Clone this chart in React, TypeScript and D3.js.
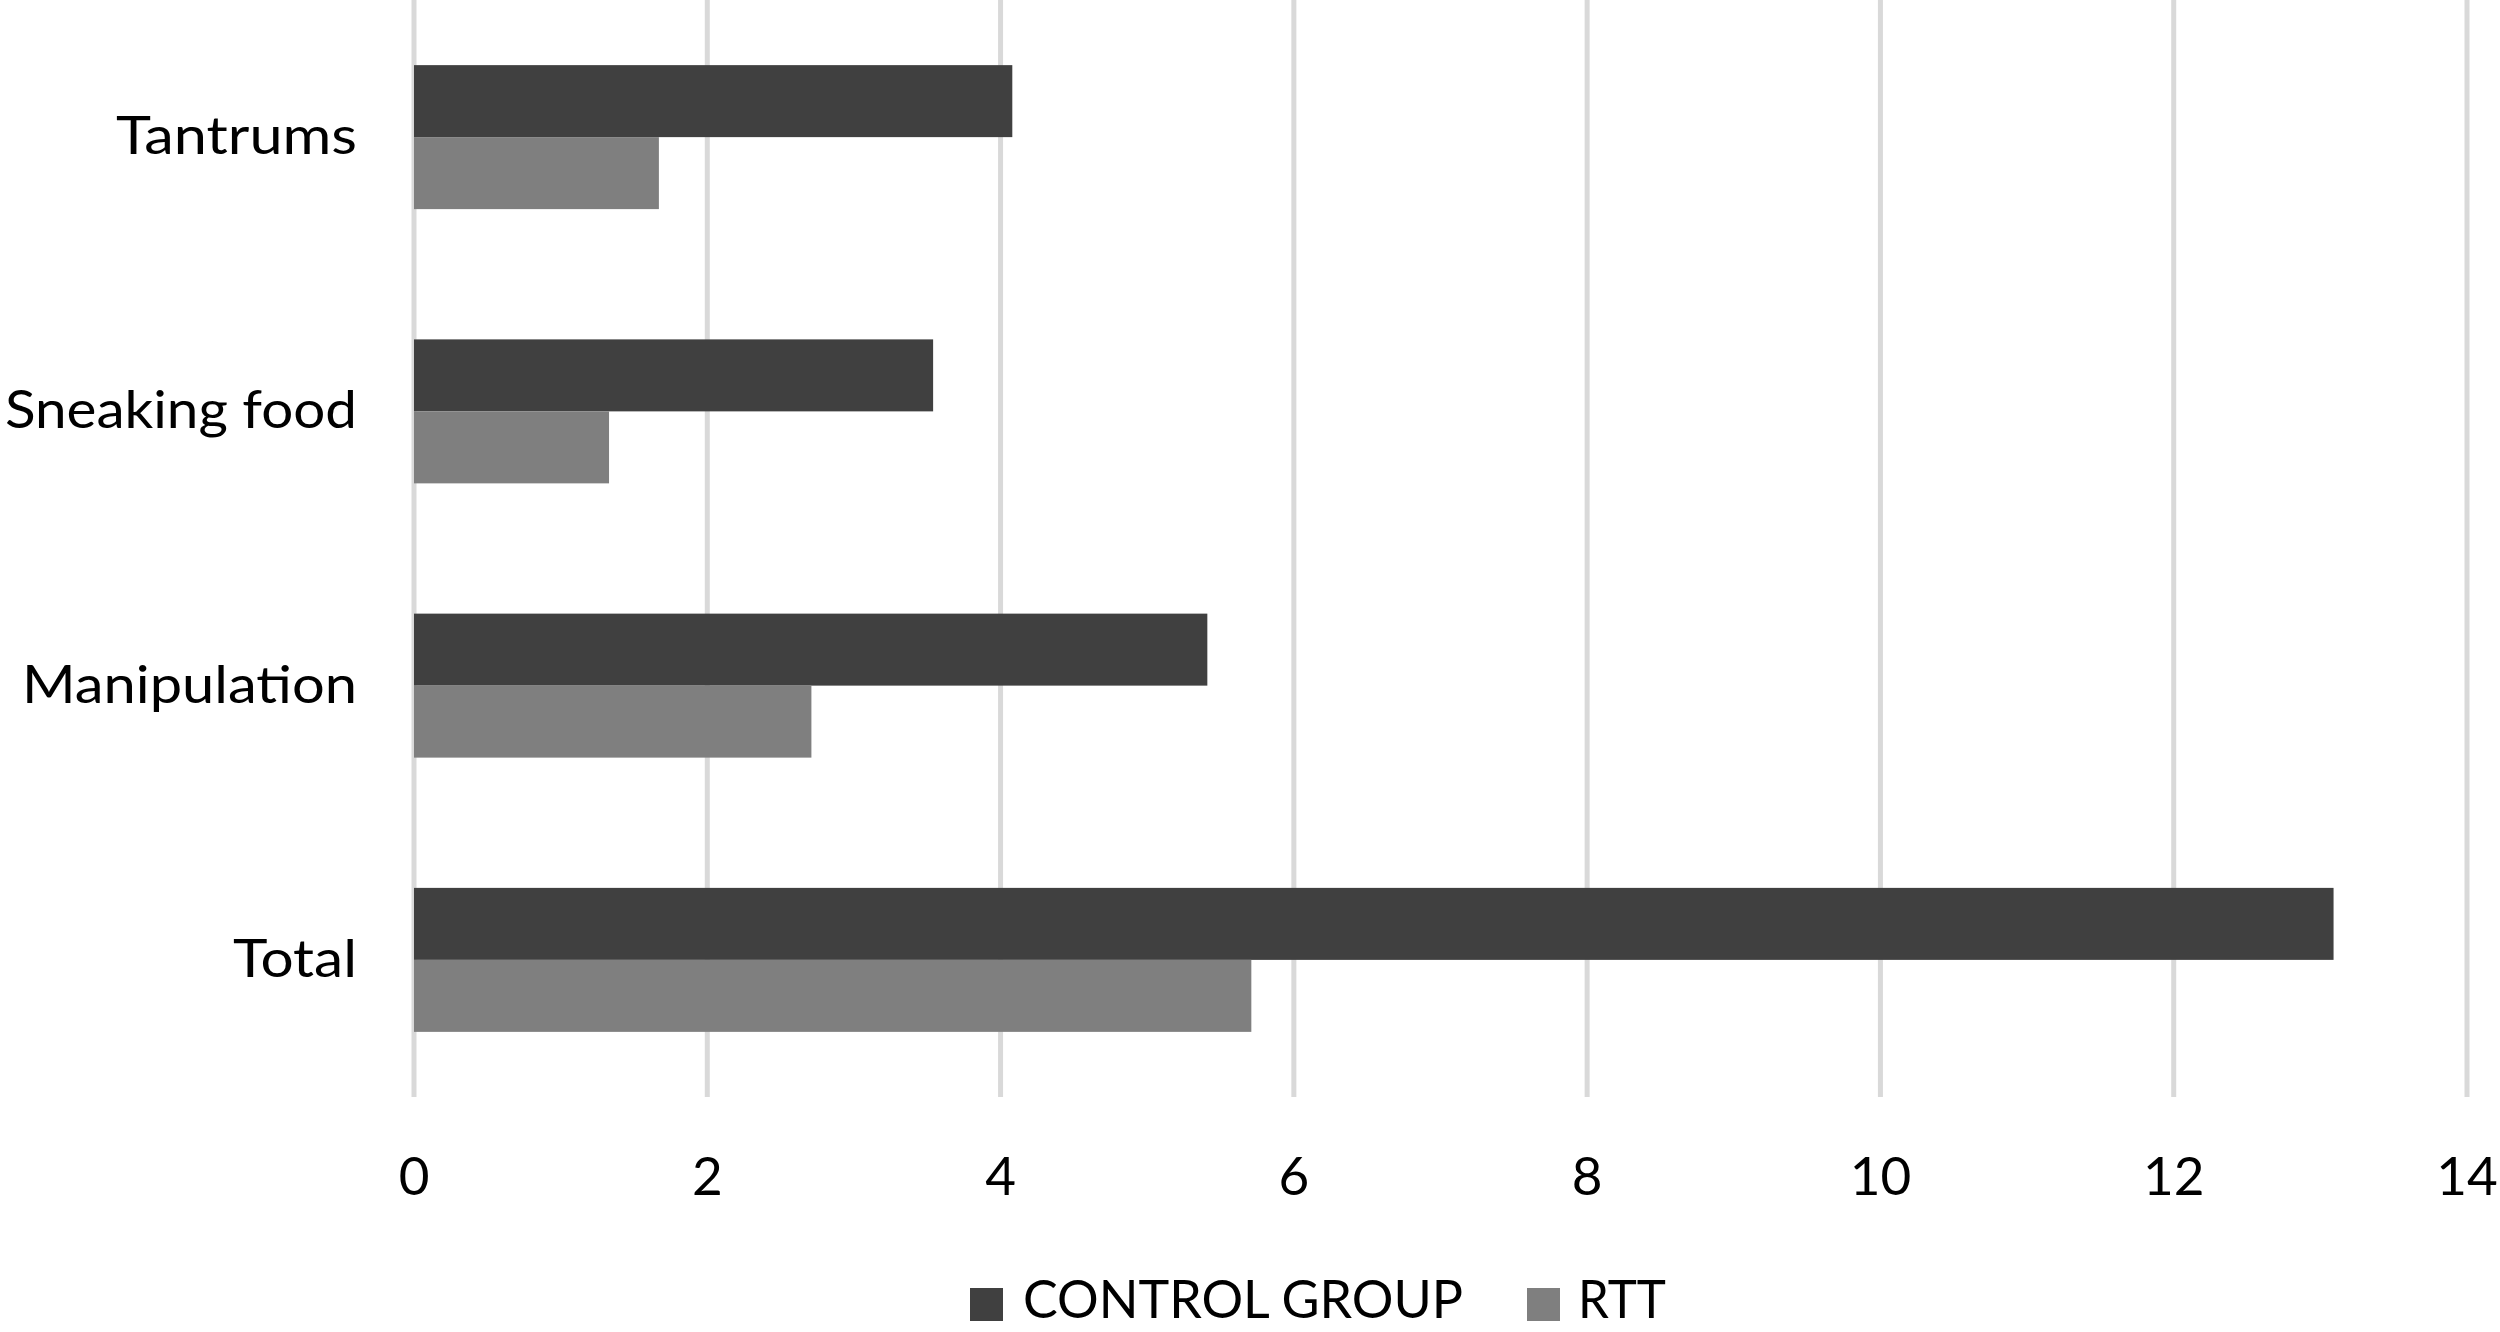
import React from 'react';
import * as d3 from 'd3';

const categories = ['Tantrums', 'Sneaking food', 'Manipulation', 'Total'];
const seriesNames = ['CONTROL GROUP', 'RTT'];
const controlValues = [4.08, 3.54, 5.41, 13.09];
const rttValues = [1.67, 1.33, 2.71, 5.71];
const xTicks = [0, 2, 4, 6, 8, 10, 12, 14];
const seriesColors = ['#404040', '#7f7f7f'];
const categoryLabelWidths = [241, 352, 335, 124];
const legendLabelWidths = [440, 88];

export default function App() {
  const W = 2500;
  const H = 1332;
  const plotTop = 0;
  const plotBottom = 1097;
  const font = 'Lato, Carlito, "Open Sans", sans-serif';
  const fontSize = 53;

  const x = d3.scaleLinear().domain([0, 14]).range([414, 2467]);
  const y = d3
    .scaleBand<string>()
    .domain(categories)
    .range([plotTop, plotBottom])
    .paddingInner(0.475)
    .paddingOuter(0.2375);
  const sub = d3.scaleBand<string>().domain(seriesNames).range([0, y.bandwidth()]);
  const values = [controlValues, rttValues];

  const legendItems = [
    { sq: 970, tx: 1023 },
    { sq: 1527, tx: 1578 },
  ];
  const legendBaseline = 1318;

  return (
    <svg
      width={W}
      height={H}
      style={{ position: 'absolute', left: 0, top: 0, background: '#fff' }}
      fontFamily={font}
    >
      <rect x={0} y={0} width={W} height={H} fill="#ffffff" />
      {xTicks.map((t) => (
        <line
          key={'g' + t}
          x1={x(t)}
          x2={x(t)}
          y1={plotTop}
          y2={plotBottom}
          stroke="#d9d9d9"
          strokeWidth={5}
        />
      ))}
      {categories.map((c, i) =>
        seriesNames.map((s, j) => (
          <rect
            key={c + s}
            x={x(0)}
            y={(y(c) as number) + (sub(s) as number)}
            width={x(values[j][i]) - x(0)}
            height={sub.bandwidth()}
            fill={seriesColors[j]}
          />
        ))
      )}
      {categories.map((c, i) => (
        <text
          key={'l' + c}
          x={357}
          y={(y(c) as number) + y.bandwidth() / 2 + 17}
          textAnchor="end"
          fontSize={fontSize}
          fill="#000"
          textLength={categoryLabelWidths[i]}
          lengthAdjust="spacingAndGlyphs"
        >
          {c}
        </text>
      ))}
      {xTicks.map((t) => (
        <text
          key={'t' + t}
          x={x(t)}
          y={1195}
          textAnchor="middle"
          fontSize={fontSize}
          fill="#000"
        >
          {t}
        </text>
      ))}
      {seriesNames.map((s, j) => (
        <g key={'lg' + s}>
          <rect
            x={legendItems[j].sq}
            y={legendBaseline - 30}
            width={33}
            height={33}
            fill={seriesColors[j]}
          />
          <text
            x={legendItems[j].tx}
            y={legendBaseline}
            fontSize={fontSize}
            fill="#000"
            textLength={legendLabelWidths[j]}
            lengthAdjust="spacingAndGlyphs"
          >
            {s}
          </text>
        </g>
      ))}
    </svg>
  );
}
